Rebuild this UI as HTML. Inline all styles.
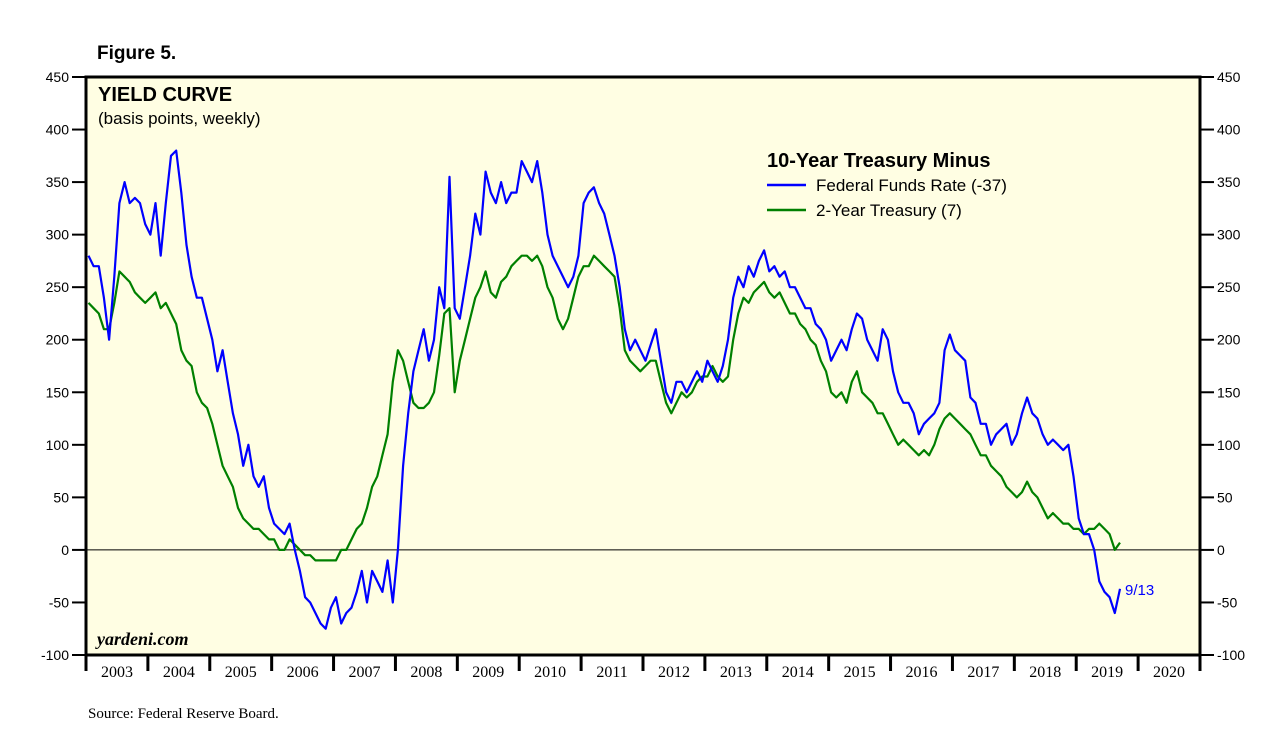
<!DOCTYPE html>
<html><head><meta charset="utf-8">
<style>
body{margin:0;background:#fff;width:1283px;height:742px;overflow:hidden}
svg{display:block}
</style></head><body>
<svg id="chart" width="1283" height="742" xmlns="http://www.w3.org/2000/svg">
<text x="97" y="59" font-family="Liberation Sans, sans-serif" font-weight="bold" font-size="19">Figure 5.</text>
<rect x="86" y="77" width="1114" height="578" fill="#fffee3"/>
<g id="grid"></g>
<g id="series"></g>
<rect x="86" y="77" width="1114" height="578" fill="none" stroke="#000" stroke-width="3"/>
<g id="axes"></g>
<text x="98" y="101" font-family="Liberation Sans, sans-serif" font-weight="bold" font-size="20">YIELD CURVE</text>
<text x="98" y="124" font-family="Liberation Sans, sans-serif" font-size="17">(basis points, weekly)</text>
<text x="767" y="167" font-family="Liberation Sans, sans-serif" font-weight="bold" font-size="20">10-Year Treasury Minus</text>
<g>
<line x1="767" y1="185" x2="806" y2="185" stroke="#0000ff" stroke-width="2.5"/>
<text x="816" y="191" font-family="Liberation Sans, sans-serif" font-size="17">Federal Funds Rate (-37)</text></g>
<g>
<line x1="767" y1="210" x2="806" y2="210" stroke="#008000" stroke-width="2.5"/>
<text x="816" y="216" font-family="Liberation Sans, sans-serif" font-size="17">2-Year Treasury (7)</text></g>
<text x="97" y="645" font-family="Liberation Serif, serif" font-style="italic" font-weight="bold" font-size="18">yardeni.com</text>
<text x="1125" y="595" fill="#0000ff" font-family="Liberation Sans, sans-serif" font-size="15">9/13</text>
<text x="88" y="718" font-family="Liberation Serif, serif" font-size="15">Source: Federal Reserve Board.</text>
</svg>
<script>
const yTicks=[450,400,350,300,250,200,150,100,50,0,-50,-100];
const years=[2003,2004,2005,2006,2007,2008,2009,2010,2011,2012,2013,2014,2015,2016,2017,2018,2019,2020];
const startYear=2003;
const fedFunds=[280,270,270,240,200,260,330,350,330,335,330,310,
300,330,280,330,375,380,340,290,260,240,240,220,
200,170,190,160,130,110,80,100,70,60,70,40,
25,20,15,25,0,-20,-45,-50,-60,-70,-75,-55,
-45,-70,-60,-55,-40,-20,-50,-20,-30,-40,-10,-50,
0,80,130,170,190,210,180,200,250,230,355,230,
220,250,280,320,300,360,340,330,350,330,340,340,
370,360,350,370,340,300,280,270,260,250,260,280,
330,340,345,330,320,300,280,250,210,190,200,190,
180,195,210,180,150,140,160,160,150,160,170,160,
180,170,160,175,200,240,260,250,270,260,275,285,
265,270,260,265,250,250,240,230,230,215,210,200,
180,190,200,190,210,225,220,200,190,180,210,200,
170,150,140,140,130,110,120,125,130,140,190,205,
190,185,180,145,140,120,120,100,110,115,120,100,
110,130,145,130,125,110,100,105,100,95,100,70,
30,15,15,0,-30,-40,-45,-60,-37];
const twoYear=[235,230,225,210,210,235,265,260,255,245,240,235,
240,245,230,235,225,215,190,180,175,150,140,135,
120,100,80,70,60,40,30,25,20,20,15,10,
10,0,0,10,5,0,-5,-5,-10,-10,-10,-10,
-10,0,0,10,20,25,40,60,70,90,110,160,
190,180,160,140,135,135,140,150,185,225,230,150,
180,200,220,240,250,265,245,240,255,260,270,275,
280,280,275,280,270,250,240,220,210,220,240,260,
270,270,280,275,270,265,260,230,190,180,175,170,
175,180,180,160,140,130,140,150,145,150,160,165,
165,175,165,160,165,200,225,240,235,245,250,255,
245,240,245,235,225,225,215,210,200,195,180,170,
150,145,150,140,160,170,150,145,140,130,130,120,
110,100,105,100,95,90,95,90,100,115,125,130,
125,120,115,110,100,90,90,80,75,70,60,55,
50,55,65,55,50,40,30,35,30,25,25,20,
20,15,20,20,25,20,15,0,7];

const NS='http://www.w3.org/2000/svg';
const X0=86,X1=1200,Y0=77,Y1=655,VMAX=450,VMIN=-100,NY=18;
function xScale(t){return X0+(t-startYear)/NY*(X1-X0);}
function yScale(v){return Y0+(VMAX-v)/(VMAX-VMIN)*(Y1-Y0);}
function mk(tag,attrs,parent){const e=document.createElementNS(NS,tag);for(const k in attrs)e.setAttribute(k,attrs[k]);parent.appendChild(e);return e;}
const axes=document.getElementById('axes'),grid=document.getElementById('grid'),series=document.getElementById('series');

const zl=mk('line',{x1:X0,x2:X1,y1:yScale(0),y2:yScale(0),stroke:'#000','stroke-width':1},grid);



yTicks.forEach(v=>{
  const y=yScale(v);
  mk('line',{x1:X0-14,x2:X0,y1:y,y2:y,stroke:'#000','stroke-width':2},axes);
  mk('line',{x1:X1,x2:X1+14,y1:y,y2:y,stroke:'#000','stroke-width':2},axes);
  const l=mk('text',{x:X0-17,y:y+5,'text-anchor':'end','font-family':'Liberation Sans, sans-serif','font-size':14},axes);
  l.textContent=v;
  
  
  const r=mk('text',{x:X1+17,y:y+5,'text-anchor':'start','font-family':'Liberation Sans, sans-serif','font-size':14},axes);
  r.textContent=v;
  
  
});
for(let i=0;i<=years.length;i++){
  const x=xScale(startYear+i);
  mk('line',{x1:x,x2:x,y1:Y1,y2:Y1+16,stroke:'#000','stroke-width':3},axes);
}
years.forEach(yr=>{
  const t=mk('text',{x:xScale(yr+0.5),y:Y1+22,'text-anchor':'middle','font-family':'Liberation Serif, serif','font-size':16},axes);
  t.textContent=yr;
  
  
});
function drawLine(arr,color,name){
  const pts=arr.map((v,i)=>xScale(startYear+i/12+0.04).toFixed(1)+','+yScale(v).toFixed(1)).join(' ');
  const p=mk('polyline',{points:pts,fill:'none',stroke:color,'stroke-width':2.2,'stroke-linejoin':'round'},series);
  
  
}
drawLine(twoYear,'#008000','two-year-treasury-line');
drawLine(fedFunds,'#0000ff','fed-funds-rate-line');
</script>
</body></html>
